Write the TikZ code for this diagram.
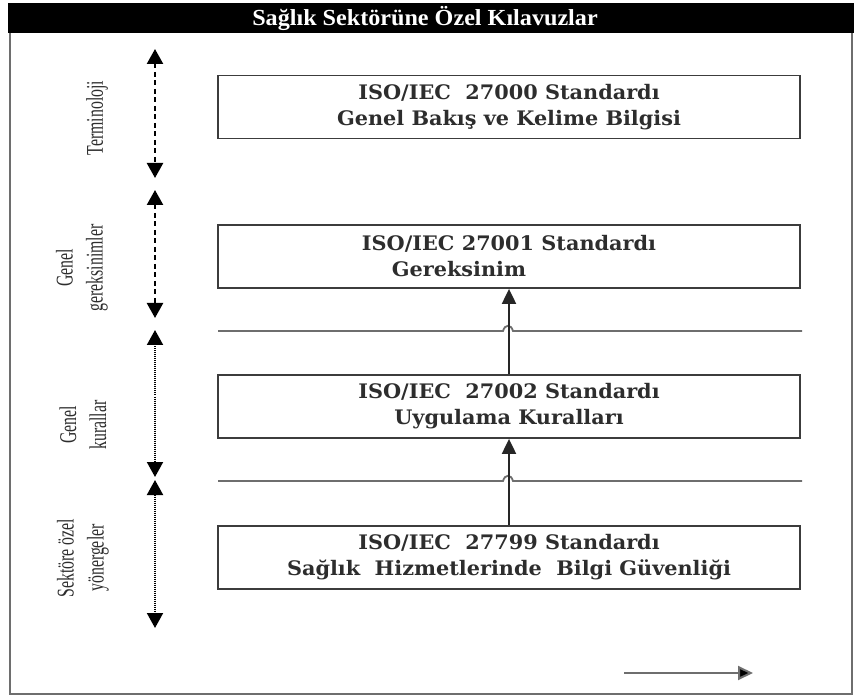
\documentclass[tikz,border=0pt]{standalone}
\usepackage{fontspec}
\usepackage{tikz}
\usepackage{xcolor}
\usetikzlibrary{arrows.meta,positioning,calc}
\newfontfamily\boxfont[FakeStretch=1.04]{DejaVu Serif}
\newfontfamily\sidefont[FakeStretch=0.66]{Liberation Serif}
\newfontfamily\titlefont[FakeStretch=1.05]{Liberation Serif}
\definecolor{framegray}{RGB}{110,110,110}
\definecolor{boxline}{RGB}{60,60,60}
\definecolor{txtgray}{RGB}{45,45,45}

\begin{document}
\begin{tikzpicture}[x=1pt,y=-1pt,
  stdbox/.style={draw=boxline,line width=1.8pt,minimum width=582pt,minimum height=63pt,
    inner sep=0pt,align=center,text=txtgray,font=\boxfont\bfseries\fontsize{20}{26}\selectfont},
  sidelabel/.style={rotate=90,align=center,text=txtgray,font=\sidefont\fontsize{24}{30}\selectfont},
  spandash/.style={line width=2.4pt,dash pattern=on 5pt off 3.5pt,
    {Triangle[width=16pt,length=15pt]}-{Triangle[width=16pt,length=15pt]}},
  spandot/.style={line width=2pt,dash pattern=on 1pt off 1pt,
    {Triangle[width=16pt,length=15pt]}-{Triangle[width=16pt,length=15pt]}},
  uparrow/.style={line width=2pt,black!85,-{Triangle[width=14pt,length=15pt]}}]
\useasboundingbox (0,0) rectangle (854,700);
% frame and header
\draw[framegray,line width=2pt] (10,33) -- (10,694) -- (852,694) -- (852,33);
\fill[black] (8,3) rectangle (854,33);
\node[text=white,font=\titlefont\bfseries\fontsize{23}{26}\selectfont] (title) at (425,18) {Sağlık Sektörüne Özel Kılavuzlar};
% standards
\node[stdbox] (b1) at (509,107) {ISO/IEC\ \ 27000 Standardı\\Genel Bakış ve Kelime Bilgisi};
\node[stdbox] (b2) at (509,256.5) {ISO/IEC 27001 Standardı\\Gereksinim\hspace*{100pt}};
\node[stdbox] (b3) at (509,406.5) {ISO/IEC\ \ 27002 Standardı\\Uygulama Kuralları};
\node[stdbox] (b4) at (509,557.5) {ISO/IEC\ \ 27799 Standardı\\Sağlık\ \ Hizmetlerinde\ \ Bilgi Güvenliği};
% separators with hop
\foreach \y in {331,481}{
  \draw[framegray,line width=1.8pt] (218,\y) -- (503,\y) .. controls (505,\y-7) and (511,\y-7) .. (513,\y) -- (802,\y);
}
\draw[uparrow] (b3) -- (b2);
\draw[uparrow] (b4) -- (b3);
% side spans
\foreach \i/\a/\b/\s in {1/49/178/spandash,2/190/318/spandash,3/330/477/spandot,4/480/628/spandot}{
  \coordinate (top\i) at (155,\a);
  \coordinate (bot\i) at (155,\b);
  \draw[\s] (top\i) -- (bot\i);
}
\node[sidelabel] (lab1) at (97,118) {Terminoloji};
\node[sidelabel] (lab2) at (82,268) {Genel\\gereksinimler};
\node[sidelabel] (lab3) at (83,425) {Genel\\kurallar};
\node[sidelabel] (lab4) at (83,558) {Sektöre özel\\yönergeler};
% bottom arrow
\coordinate (arrL) at (624,673);
\coordinate (arrR) at (753,673);
\draw[framegray,line width=2pt,-{Triangle[width=14pt,length=15pt,fill=black]}] (arrL) -- (arrR);
\end{tikzpicture}
\end{document}
